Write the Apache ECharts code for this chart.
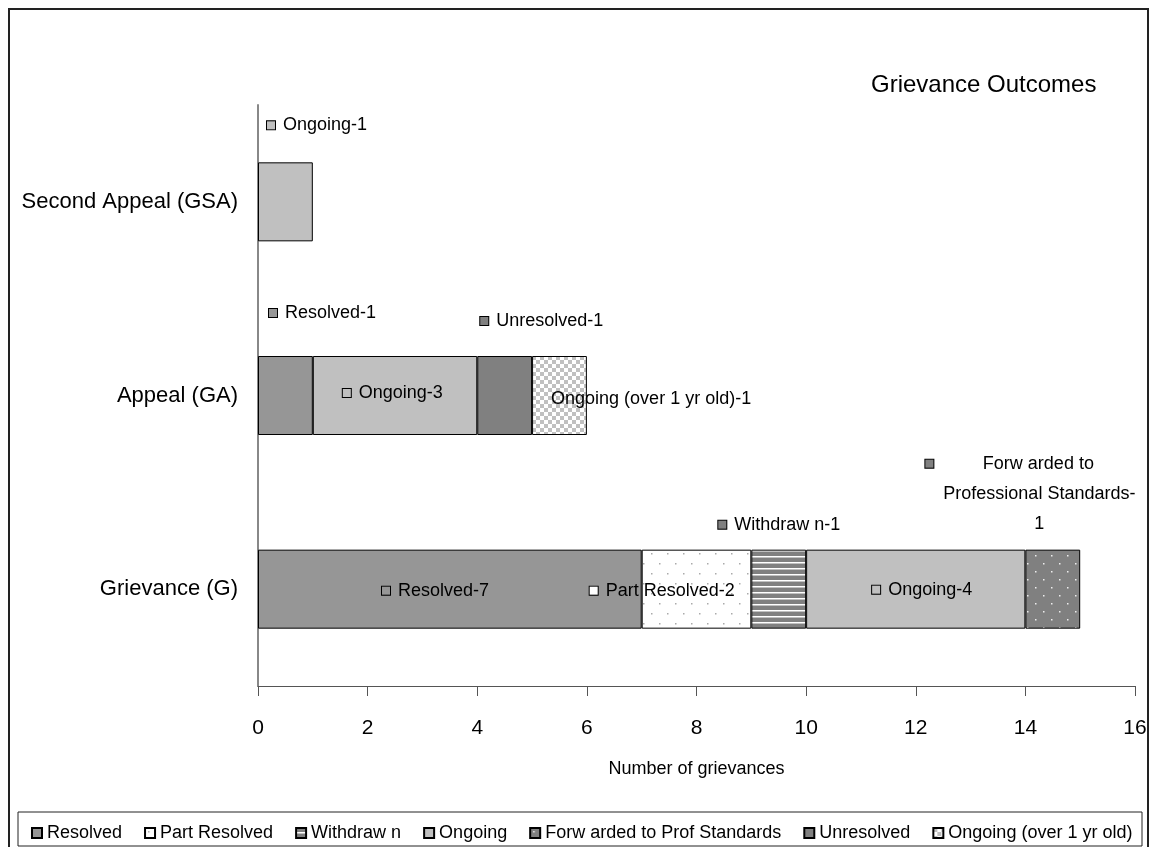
<!DOCTYPE html>
<html>
<head>
<meta charset="utf-8">
<title>Grievance Outcomes</title>
<script src="https://cdn.jsdelivr.net/npm/echarts@6/dist/echarts.min.js"></script>
<style>
  html, body { margin: 0; padding: 0; background: #fff; }
  #chart { width: 1152px; height: 847px; }
</style>
</head>
<body>
<div id="chart"></div>
<script>
// categories, top to bottom
const categories = ['Second Appeal (GSA)', 'Appeal (GA)', 'Grievance (G)'];
// legend names and the names used in the data labels
const outcomes = ['Resolved', 'Part Resolved', 'Withdraw n', 'Ongoing', 'Forw arded to Prof Standards', 'Unresolved', 'Ongoing (over 1 yr old)'];
const labelNames = ['Resolved', 'Part Resolved', 'Withdraw n', 'Ongoing', 'Forw arded to Professional Standards', 'Unresolved', 'Ongoing (over 1 yr old)'];
// values per outcome, in category order
const resolved     = [0, 1, 7];
const partResolved = [0, 0, 2];
const withdrawn    = [0, 0, 1];
const ongoing      = [1, 3, 4];
const forwarded    = [0, 0, 1];
const unresolved   = [0, 1, 0];
const ongoingOld   = [0, 1, 0];
const xTicks = [0, 2, 4, 6, 8, 10, 12, 14, 16];

const values = [resolved, partResolved, withdrawn, ongoing, forwarded, unresolved, ongoingOld];
const FONT = '"Liberation Sans", Arial, sans-serif';

// fill patterns like the old excel ones
function pat(w, h, draw) {
  const c = document.createElement('canvas');
  c.width = w; c.height = h;
  draw(c.getContext('2d'));
  return { image: c, repeat: 'repeat' };
}
const fills = [
  '#969696',
  pat(16, 20, g => { g.fillStyle = '#fff'; g.fillRect(0, 0, 16, 20); g.fillStyle = '#aaa'; g.fillRect(3, 3, 1.5, 1.5); g.fillRect(11, 13, 1.5, 1.5); }),
  pat(6, 6, g => { g.fillStyle = '#808080'; g.fillRect(0, 0, 6, 6); g.fillStyle = '#fff'; g.fillRect(0, 4, 6, 1.5); }),
  '#c0c0c0',
  pat(16, 16, g => { g.fillStyle = '#808080'; g.fillRect(0, 0, 16, 16); g.fillStyle = '#eee'; g.fillRect(3, 3, 1.5, 1.5); g.fillRect(11, 11, 1.5, 1.5); }),
  '#808080',
  pat(8, 8, g => { g.fillStyle = '#fff'; g.fillRect(0, 0, 8, 8); g.fillStyle = '#c0c0c0'; g.fillRect(0, 0, 4, 4); g.fillRect(4, 4, 4, 4); })
];
const keyColors = ['#969696', '#fff', '#808080', '#c0c0c0', '#808080', '#808080', '#fff'];

// where each data label sits, offset from its bar's top-left corner
const spots = {
  '3-0': [9, -37],
  '0-1': [11, -43],
  '3-1': [30, 37],
  '5-1': [3, -35],
  '6-1': [19, 43],
  '0-2': [124, 41],
  '1-2': [-52, 41],
  '2-2': [-33, -25],
  '3-2': [66, 40],
  '4-2': [-100, -101]
};

function makeLabel(s, i, v) {
  const p = spots[s + '-' + i];
  if (!p) return { show: false };
  const rich = {
    k: { width: 8, height: 8, backgroundColor: keyColors[s], borderColor: '#000', borderWidth: 1 },
    g: { width: 8 },
    g1: { width: 6 },
    g2: { width: 16 },
    c: { width: 196, align: 'center', fontSize: 18, lineHeight: 30, fontFamily: FONT, color: '#000' }
  };
  let text, va = 'middle';
  if (s === 4) {
    text = '{k|}{g1|}{c|Forw arded to}\n{g2|}{c|Professional Standards-}\n{g2|}{c|' + v + '}';
    va = 'top';
  } else if (s === 6) {
    text = labelNames[s] + '-' + v;
  } else {
    text = '{k|}{g|}' + labelNames[s] + '-' + v;
  }
  return {
    show: true, position: p, align: 'left', verticalAlign: va,
    formatter: text, rich: rich, fontSize: 18, lineHeight: 30,
    fontFamily: FONT, color: '#000'
  };
}

const series = outcomes.map((name, s) => ({
  name: name,
  type: 'bar',
  stack: 'total',
  barWidth: 79,
  itemStyle: { color: fills[s], borderColor: '#000', borderWidth: 1 },
  emphasis: { disabled: true },
  data: values[s].map((v, i) => v ? { value: v, label: makeLabel(s, i, v) } : '-')
}));

const chart = echarts.init(document.getElementById('chart'));
chart.setOption({
  animation: false,
  backgroundColor: '#fff',
  title: {
    text: 'Grievance Outcomes', left: 871, top: 73, padding: 0,
    textStyle: { fontSize: 24, fontWeight: 'normal', color: '#000', fontFamily: FONT }
  },
  legend: {
    data: outcomes, left: 26, top: 819, itemWidth: 10, itemHeight: 10, itemGap: 22,
    icon: 'rect', selectedMode: false,
    textStyle: { fontSize: 18, color: '#000', fontFamily: FONT }
  },
  grid: { left: 258, right: 17, top: 105, bottom: 161, containLabel: false },
  xAxis: {
    type: 'value',
    min: xTicks[0], max: xTicks[xTicks.length - 1], interval: xTicks[1] - xTicks[0],
    name: 'Number of grievances', nameLocation: 'middle', nameGap: 74,
    nameTextStyle: { fontSize: 18, color: '#000', fontFamily: FONT },
    axisLine: { show: true, lineStyle: { color: '#555', width: 1 } },
    axisTick: { show: true, length: 10, lineStyle: { color: '#555' } },
    splitLine: { show: false },
    axisLabel: { fontSize: 21, margin: 32, color: '#000', fontFamily: FONT }
  },
  yAxis: {
    type: 'category', data: categories, inverse: true,
    axisLine: { show: true, lineStyle: { color: '#888', width: 2 } },
    axisTick: { show: false },
    axisLabel: { fontSize: 22, margin: 20, color: '#000', fontFamily: FONT }
  },
  graphic: [
    { type: 'rect', silent: true, z: 100, shape: { x: 9, y: 9, width: 1139, height: 845 }, style: { fill: 'none', stroke: '#222', lineWidth: 2 } },
    { type: 'rect', silent: true, z: 100, shape: { x: 18, y: 812, width: 1124, height: 34 }, style: { fill: 'none', stroke: '#222', lineWidth: 1 } }
  ],
  series: series
});
</script>
</body>
</html>
